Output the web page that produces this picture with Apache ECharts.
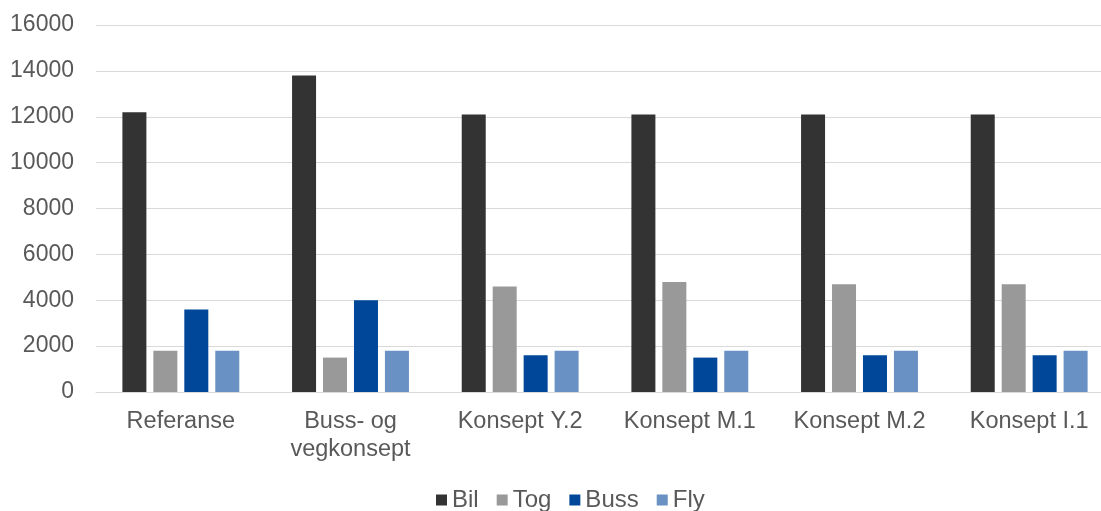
<!DOCTYPE html>
<html>
<head>
<meta charset="utf-8">
<style>
  html, body { margin: 0; padding: 0; background: #ffffff; }
  #chart { width: 1101px; height: 511px; }
</style>
<script src="https://cdn.jsdelivr.net/npm/echarts@6/dist/echarts.min.js"></script>
</head>
<body>
<div id="chart"></div>
<script>
// Trips per transport mode for each concept
const categories = ['Referanse', 'Buss- og\nvegkonsept', 'Konsept Y.2', 'Konsept M.1', 'Konsept M.2', 'Konsept I.1'];
const bil  = [12200, 13800, 12100, 12100, 12100, 12100];
const tog  = [1800, 1500, 4600, 4800, 4700, 4700];
const buss = [3600, 4000, 1600, 1500, 1600, 1600];
const fly  = [1800, 1800, 1800, 1800, 1800, 1800];
const yTicks = { min: 0, max: 16000, interval: 2000 };

const textColor = '#595959';
const fontFamily = '"Liberation Sans", Arial, sans-serif';

const chart = echarts.init(document.getElementById('chart'), null, { renderer: 'canvas' });

function barSeries(name, data, color) {
  return {
    name: name,
    type: 'bar',
    data: data,
    barWidth: 24,
    barGap: '29%',
    itemStyle: { color: color },
    emphasis: { disabled: true }
  };
}

chart.setOption({
  animation: false,
  backgroundColor: '#ffffff',
  // the plot area runs a little past the right edge of the canvas
  grid: {
    left: 96, width: 1018, top: 25, bottom: 119,
    containLabel: false,
    outerBoundsMode: 'none'
  },
  legend: {
    data: ['Bil', 'Tog', 'Buss', 'Fly'],
    left: 436,
    top: 488,
    padding: 0,
    itemWidth: 11,
    itemHeight: 11,
    itemGap: 18,
    icon: 'rect',
    textStyle: { color: textColor, fontSize: 24, fontFamily: fontFamily, lineHeight: 24 }
  },
  xAxis: {
    type: 'category',
    data: categories,
    axisLine: { lineStyle: { color: '#d9d9d9', width: 1 } },
    axisTick: { show: false },
    axisLabel: {
      color: textColor,
      fontSize: 23.5,
      fontFamily: fontFamily,
      lineHeight: 28,
      margin: 16,
      interval: 0
    },
    splitLine: { show: false }
  },
  yAxis: {
    type: 'value',
    min: yTicks.min,
    max: yTicks.max,
    interval: yTicks.interval,
    axisLine: { show: false },
    axisTick: { show: false },
    axisLabel: {
      color: textColor,
      fontSize: 23,
      fontFamily: fontFamily,
      margin: 22,
      formatter: function (v) { return String(v); }
    },
    splitLine: { lineStyle: { color: '#d9d9d9', width: 1 } }
  },
  series: [
    barSeries('Bil', bil, '#333333'),
    barSeries('Tog', tog, '#999999'),
    barSeries('Buss', buss, '#00479a'),
    barSeries('Fly', fly, '#6991c3')
  ]
});
</script>
</body>
</html>
